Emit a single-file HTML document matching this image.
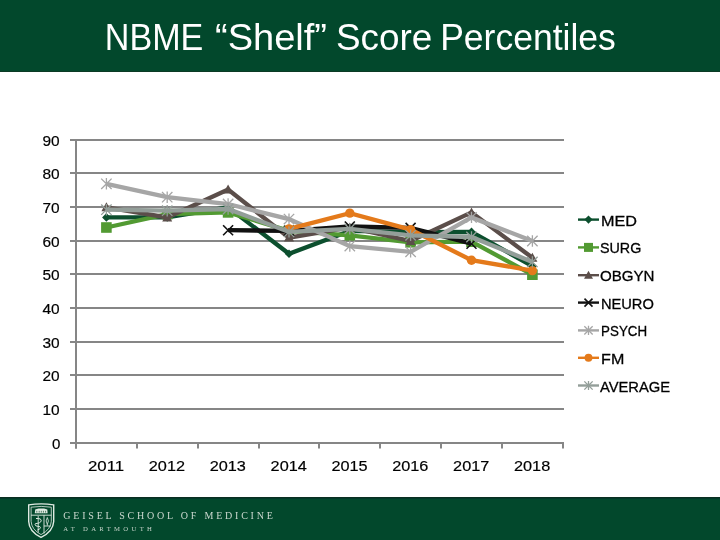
<!DOCTYPE html>
<html><head><meta charset="utf-8">
<style>
html,body{margin:0;padding:0;}
body{width:720px;height:540px;position:relative;overflow:hidden;background:#fff;font-family:"Liberation Sans",sans-serif;}
#top{position:absolute;left:0;top:0;width:720px;height:71px;background:#02482c;border-bottom:1px solid #0b3a25;}
#foot{position:absolute;left:0;top:497px;width:720px;height:42px;background:#02482c;border-top:1px solid #0a2f20;box-shadow:inset 0 1px 0 #03392a;}
svg{position:absolute;left:0;top:0;will-change:transform;}
.lab{font-size:15.5px;fill:#000;stroke:#000;stroke-width:0.2px;}
.leg{font-size:15.5px;fill:#000;stroke:#000;stroke-width:0.3px;}
</style></head><body>
<div id="top"></div>
<svg width="720" height="80" viewBox="0 0 720 80" style="position:absolute;left:0;top:0">
<g style="font-size:36px;fill:#fff">
<text x="104.8" y="49.5" textLength="98.5" lengthAdjust="spacingAndGlyphs">NBME</text>
<text x="215" y="49.5" textLength="112" lengthAdjust="spacingAndGlyphs">“Shelf”</text>
<text x="336" y="49.5" textLength="96.3" lengthAdjust="spacingAndGlyphs">Score</text>
<text x="440.2" y="49.5" textLength="175.6" lengthAdjust="spacingAndGlyphs">Percentiles</text>
</g></svg>
<svg width="720" height="540" viewBox="0 0 720 540">
<line x1="70" y1="443" x2="564" y2="443" stroke="#868686" stroke-width="2"/>
<line x1="70" y1="409" x2="564" y2="409" stroke="#868686" stroke-width="2"/>
<line x1="70" y1="375" x2="564" y2="375" stroke="#868686" stroke-width="2"/>
<line x1="70" y1="342" x2="564" y2="342" stroke="#868686" stroke-width="2"/>
<line x1="70" y1="308" x2="564" y2="308" stroke="#868686" stroke-width="2"/>
<line x1="70" y1="274" x2="564" y2="274" stroke="#868686" stroke-width="2"/>
<line x1="70" y1="241" x2="564" y2="241" stroke="#868686" stroke-width="2"/>
<line x1="70" y1="207" x2="564" y2="207" stroke="#868686" stroke-width="2"/>
<line x1="70" y1="173" x2="564" y2="173" stroke="#868686" stroke-width="2"/>
<line x1="70" y1="140" x2="564" y2="140" stroke="#868686" stroke-width="2"/>
<line x1="76" y1="139" x2="76" y2="448.5" stroke="#868686" stroke-width="2"/>
<line x1="76" y1="443" x2="76" y2="448.5" stroke="#868686" stroke-width="2"/>
<line x1="137" y1="443" x2="137" y2="448.5" stroke="#868686" stroke-width="2"/>
<line x1="198" y1="443" x2="198" y2="448.5" stroke="#868686" stroke-width="2"/>
<line x1="259" y1="443" x2="259" y2="448.5" stroke="#868686" stroke-width="2"/>
<line x1="319" y1="443" x2="319" y2="448.5" stroke="#868686" stroke-width="2"/>
<line x1="380" y1="443" x2="380" y2="448.5" stroke="#868686" stroke-width="2"/>
<line x1="441" y1="443" x2="441" y2="448.5" stroke="#868686" stroke-width="2"/>
<line x1="502" y1="443" x2="502" y2="448.5" stroke="#868686" stroke-width="2"/>
<line x1="563" y1="443" x2="563" y2="448.5" stroke="#868686" stroke-width="2"/>
<text x="52.0" y="448.70" textLength="8.4" lengthAdjust="spacingAndGlyphs" class="lab">0</text>
<text x="42.4" y="415.03" textLength="17.2" lengthAdjust="spacingAndGlyphs" class="lab">10</text>
<text x="42.4" y="381.37" textLength="17.2" lengthAdjust="spacingAndGlyphs" class="lab">20</text>
<text x="42.4" y="347.70" textLength="17.2" lengthAdjust="spacingAndGlyphs" class="lab">30</text>
<text x="42.4" y="314.03" textLength="17.2" lengthAdjust="spacingAndGlyphs" class="lab">40</text>
<text x="42.4" y="280.37" textLength="17.2" lengthAdjust="spacingAndGlyphs" class="lab">50</text>
<text x="42.4" y="246.70" textLength="17.2" lengthAdjust="spacingAndGlyphs" class="lab">60</text>
<text x="42.4" y="213.03" textLength="17.2" lengthAdjust="spacingAndGlyphs" class="lab">70</text>
<text x="42.4" y="179.37" textLength="17.2" lengthAdjust="spacingAndGlyphs" class="lab">80</text>
<text x="42.4" y="145.70" textLength="17.2" lengthAdjust="spacingAndGlyphs" class="lab">90</text>
<text x="88.0" y="470.6" textLength="36.2" lengthAdjust="spacingAndGlyphs" class="lab">2011</text>
<text x="148.8" y="470.6" textLength="36.2" lengthAdjust="spacingAndGlyphs" class="lab">2012</text>
<text x="209.7" y="470.6" textLength="36.2" lengthAdjust="spacingAndGlyphs" class="lab">2013</text>
<text x="270.6" y="470.6" textLength="36.2" lengthAdjust="spacingAndGlyphs" class="lab">2014</text>
<text x="331.4" y="470.6" textLength="36.2" lengthAdjust="spacingAndGlyphs" class="lab">2015</text>
<text x="392.2" y="470.6" textLength="36.2" lengthAdjust="spacingAndGlyphs" class="lab">2016</text>
<text x="453.1" y="470.6" textLength="36.2" lengthAdjust="spacingAndGlyphs" class="lab">2017</text>
<text x="514.0" y="470.6" textLength="36.2" lengthAdjust="spacingAndGlyphs" class="lab">2018</text>
<polyline points="106.4,217.4 167.2,217.4 228.1,207.3 289.0,253.8 349.8,230.9 410.6,232.2 471.5,231.9 532.4,266.2" fill="none" stroke="#0c4f2e" stroke-width="4.3" stroke-linejoin="miter"/>
<path d="M106.4,213.1 L110.7,217.4 L106.4,221.70000000000002 L102.10000000000001,217.4 Z" fill="#0c4f2e"/>
<path d="M167.2,213.1 L171.5,217.4 L167.2,221.70000000000002 L162.89999999999998,217.4 Z" fill="#0c4f2e"/>
<path d="M228.1,203.0 L232.4,207.3 L228.1,211.60000000000002 L223.79999999999998,207.3 Z" fill="#0c4f2e"/>
<path d="M289.0,249.5 L293.3,253.8 L289.0,258.1 L284.7,253.8 Z" fill="#0c4f2e"/>
<path d="M349.8,226.6 L354.1,230.9 L349.8,235.20000000000002 L345.5,230.9 Z" fill="#0c4f2e"/>
<path d="M410.6,227.89999999999998 L414.90000000000003,232.2 L410.6,236.5 L406.3,232.2 Z" fill="#0c4f2e"/>
<path d="M471.5,227.6 L475.8,231.9 L471.5,236.20000000000002 L467.2,231.9 Z" fill="#0c4f2e"/>
<path d="M532.4,261.9 L536.6999999999999,266.2 L532.4,270.5 L528.1,266.2 Z" fill="#0c4f2e"/>
<polyline points="106.4,227.5 167.2,214.1 228.1,212.4 289.0,230.9 349.8,235.3 410.6,242.3 471.5,241.7 532.4,274.7" fill="none" stroke="#529a32" stroke-width="4.3" stroke-linejoin="miter"/>
<rect x="101.10000000000001" y="222.2" width="10.6" height="10.6" fill="#529a32"/>
<rect x="161.89999999999998" y="208.79999999999998" width="10.6" height="10.6" fill="#529a32"/>
<rect x="222.79999999999998" y="207.1" width="10.6" height="10.6" fill="#529a32"/>
<rect x="283.7" y="225.6" width="10.6" height="10.6" fill="#529a32"/>
<rect x="344.5" y="230.0" width="10.6" height="10.6" fill="#529a32"/>
<rect x="405.3" y="237.0" width="10.6" height="10.6" fill="#529a32"/>
<rect x="466.2" y="236.39999999999998" width="10.6" height="10.6" fill="#529a32"/>
<rect x="527.1" y="269.4" width="10.6" height="10.6" fill="#529a32"/>
<polyline points="106.4,207.3 167.2,217.4 228.1,189.5 289.0,237.6 349.8,227.5 410.6,241.0 471.5,212.4 532.4,257.8" fill="none" stroke="#5b4e4a" stroke-width="4.3" stroke-linejoin="miter"/>
<path d="M106.4,202.3 L111.4,211.3 L101.4,211.3 Z" fill="#5b4e4a"/>
<path d="M167.2,212.4 L172.2,221.4 L162.2,221.4 Z" fill="#5b4e4a"/>
<path d="M228.1,184.5 L233.1,193.5 L223.1,193.5 Z" fill="#5b4e4a"/>
<path d="M289.0,232.6 L294.0,241.6 L284.0,241.6 Z" fill="#5b4e4a"/>
<path d="M349.8,222.5 L354.8,231.5 L344.8,231.5 Z" fill="#5b4e4a"/>
<path d="M410.6,236.0 L415.6,245.0 L405.6,245.0 Z" fill="#5b4e4a"/>
<path d="M471.5,207.4 L476.5,216.4 L466.5,216.4 Z" fill="#5b4e4a"/>
<path d="M532.4,252.8 L537.4,261.8 L527.4,261.8 Z" fill="#5b4e4a"/>
<polyline points="228.1,230.2 289.0,230.9 349.8,226.5 410.6,227.9 471.5,243.7" fill="none" stroke="#111111" stroke-width="4.3" stroke-linejoin="miter"/>
<path d="M223.1,225.2 L233.1,235.2 M233.1,225.2 L223.1,235.2" stroke="#111111" stroke-width="1.6" fill="none"/>
<path d="M284.0,225.9 L294.0,235.9 M294.0,225.9 L284.0,235.9" stroke="#111111" stroke-width="1.6" fill="none"/>
<path d="M344.8,221.5 L354.8,231.5 M354.8,221.5 L344.8,231.5" stroke="#111111" stroke-width="1.6" fill="none"/>
<path d="M405.6,222.9 L415.6,232.9 M415.6,222.9 L405.6,232.9" stroke="#111111" stroke-width="1.6" fill="none"/>
<path d="M466.5,238.7 L476.5,248.7 M476.5,238.7 L466.5,248.7" stroke="#111111" stroke-width="1.6" fill="none"/>
<polyline points="106.4,183.8 167.2,197.2 228.1,204.0 289.0,219.1 349.8,246.1 410.6,251.8 471.5,217.4 532.4,241.0" fill="none" stroke="#a6a6a6" stroke-width="4.3" stroke-linejoin="miter"/>
<path d="M101.2,178.60000000000002 L111.60000000000001,189.0 M111.60000000000001,178.60000000000002 L101.2,189.0 M106.4,178.08 L106.4,189.52" stroke="#a6a6a6" stroke-width="1.3" fill="none"/>
<path d="M162.0,192.0 L172.39999999999998,202.39999999999998 M172.39999999999998,192.0 L162.0,202.39999999999998 M167.2,191.48 L167.2,202.92" stroke="#a6a6a6" stroke-width="1.3" fill="none"/>
<path d="M222.9,198.8 L233.29999999999998,209.2 M233.29999999999998,198.8 L222.9,209.2 M228.1,198.28 L228.1,209.72" stroke="#a6a6a6" stroke-width="1.3" fill="none"/>
<path d="M283.8,213.9 L294.2,224.29999999999998 M294.2,213.9 L283.8,224.29999999999998 M289.0,213.38 L289.0,224.82" stroke="#a6a6a6" stroke-width="1.3" fill="none"/>
<path d="M344.6,240.9 L355.0,251.29999999999998 M355.0,240.9 L344.6,251.29999999999998 M349.8,240.38 L349.8,251.82" stroke="#a6a6a6" stroke-width="1.3" fill="none"/>
<path d="M405.40000000000003,246.60000000000002 L415.8,257.0 M415.8,246.60000000000002 L405.40000000000003,257.0 M410.6,246.08 L410.6,257.52000000000004" stroke="#a6a6a6" stroke-width="1.3" fill="none"/>
<path d="M466.3,212.20000000000002 L476.7,222.6 M476.7,212.20000000000002 L466.3,222.6 M471.5,211.68 L471.5,223.12" stroke="#a6a6a6" stroke-width="1.3" fill="none"/>
<path d="M527.1999999999999,235.8 L537.6,246.2 M537.6,235.8 L527.1999999999999,246.2 M532.4,235.28 L532.4,246.72" stroke="#a6a6a6" stroke-width="1.3" fill="none"/>
<polyline points="289.0,228.9 349.8,213.1 410.6,229.6 471.5,260.2 532.4,270.6" fill="none" stroke="#e47a1b" stroke-width="4.3" stroke-linejoin="miter"/>
<circle cx="289.0" cy="228.9" r="4.7" fill="#e47a1b"/>
<circle cx="349.8" cy="213.1" r="4.7" fill="#e47a1b"/>
<circle cx="410.6" cy="229.6" r="4.7" fill="#e47a1b"/>
<circle cx="471.5" cy="260.2" r="4.7" fill="#e47a1b"/>
<circle cx="532.4" cy="270.6" r="4.7" fill="#e47a1b"/>
<polyline points="106.4,209.7 167.2,210.7 228.1,209.0 289.0,231.9 349.8,228.9 410.6,235.3 471.5,237.0 532.4,261.9" fill="none" stroke="#939e99" stroke-width="4.3" stroke-linejoin="miter"/>
<path d="M101.2,204.5 L111.60000000000001,214.89999999999998 M111.60000000000001,204.5 L101.2,214.89999999999998 M106.4,203.98 L106.4,215.42" stroke="#939e99" stroke-width="1.3" fill="none"/>
<path d="M162.0,205.5 L172.39999999999998,215.89999999999998 M172.39999999999998,205.5 L162.0,215.89999999999998 M167.2,204.98 L167.2,216.42" stroke="#939e99" stroke-width="1.3" fill="none"/>
<path d="M222.9,203.8 L233.29999999999998,214.2 M233.29999999999998,203.8 L222.9,214.2 M228.1,203.28 L228.1,214.72" stroke="#939e99" stroke-width="1.3" fill="none"/>
<path d="M283.8,226.70000000000002 L294.2,237.1 M294.2,226.70000000000002 L283.8,237.1 M289.0,226.18 L289.0,237.62" stroke="#939e99" stroke-width="1.3" fill="none"/>
<path d="M344.6,223.70000000000002 L355.0,234.1 M355.0,223.70000000000002 L344.6,234.1 M349.8,223.18 L349.8,234.62" stroke="#939e99" stroke-width="1.3" fill="none"/>
<path d="M405.40000000000003,230.10000000000002 L415.8,240.5 M415.8,230.10000000000002 L405.40000000000003,240.5 M410.6,229.58 L410.6,241.02" stroke="#939e99" stroke-width="1.3" fill="none"/>
<path d="M466.3,231.8 L476.7,242.2 M476.7,231.8 L466.3,242.2 M471.5,231.28 L471.5,242.72" stroke="#939e99" stroke-width="1.3" fill="none"/>
<path d="M527.1999999999999,256.7 L537.6,267.09999999999997 M537.6,256.7 L527.1999999999999,267.09999999999997 M532.4,256.17999999999995 L532.4,267.62" stroke="#939e99" stroke-width="1.3" fill="none"/>
<line x1="578" y1="219.6" x2="599" y2="219.6" stroke="#0c4f2e" stroke-width="2.4"/>
<path d="M588.5,215.515 L592.585,219.6 L588.5,223.685 L584.415,219.6 Z" fill="#0c4f2e"/>
<text x="601.0" y="225.6" textLength="36.0" lengthAdjust="spacingAndGlyphs" class="leg">MED</text>
<line x1="578" y1="247.4" x2="599" y2="247.4" stroke="#529a32" stroke-width="2.4"/>
<rect x="583.995" y="242.895" width="9.01" height="9.01" fill="#529a32"/>
<text x="599.9" y="253.4" textLength="41.4" lengthAdjust="spacingAndGlyphs" class="leg">SURG</text>
<line x1="578" y1="275.2" x2="599" y2="275.2" stroke="#5b4e4a" stroke-width="2.4"/>
<path d="M588.5,270.7 L593.0,278.8 L584.0,278.8 Z" fill="#5b4e4a"/>
<text x="599.9" y="281.2" textLength="54.5" lengthAdjust="spacingAndGlyphs" class="leg">OBGYN</text>
<line x1="578" y1="302.6" x2="599" y2="302.6" stroke="#111111" stroke-width="2.4"/>
<path d="M584.5,298.6 L592.5,306.6 M592.5,298.6 L584.5,306.6" stroke="#111111" stroke-width="1.6" fill="none"/>
<text x="600.9" y="308.6" textLength="53.0" lengthAdjust="spacingAndGlyphs" class="leg">NEURO</text>
<line x1="578" y1="330.4" x2="599" y2="330.4" stroke="#a6a6a6" stroke-width="2.4"/>
<path d="M584.34,326.23999999999995 L592.66,334.56 M592.66,326.23999999999995 L584.34,334.56 M588.5,325.82399999999996 L588.5,334.976" stroke="#a6a6a6" stroke-width="1.3" fill="none"/>
<text x="601.1" y="336.4" textLength="46.0" lengthAdjust="spacingAndGlyphs" class="leg">PSYCH</text>
<line x1="578" y1="357.8" x2="599" y2="357.8" stroke="#e47a1b" stroke-width="2.4"/>
<circle cx="588.5" cy="357.8" r="3.948" fill="#e47a1b"/>
<text x="601.1" y="363.8" textLength="23.2" lengthAdjust="spacingAndGlyphs" class="leg">FM</text>
<line x1="578" y1="385.5" x2="599" y2="385.5" stroke="#939e99" stroke-width="2.4"/>
<path d="M584.34,381.34 L592.66,389.66 M592.66,381.34 L584.34,389.66 M588.5,380.924 L588.5,390.076" stroke="#939e99" stroke-width="1.3" fill="none"/>
<text x="599.9" y="391.5" textLength="70.2" lengthAdjust="spacingAndGlyphs" class="leg">AVERAGE</text>
</svg>
<div id="foot"></div>
<svg width="720" height="540" viewBox="0 0 720 540" style="pointer-events:none">
<g fill="none" stroke="#dfeae2">
<path d="M28.7,504.9 Q41.2,502.8 53.7,504.9 L53.7,521.5 Q53.2,531.5 41,537.4 Q29,531.5 28.7,521.5 Z" stroke-width="1.4"/>
<path d="M31.1,507.2 Q41.2,505.6 51.3,507.2 L51.3,521.3 Q50.9,529.4 41,534.6 Q31.5,529.4 31.1,521.3 Z" stroke-width="0.8"/>
<path d="M31,515.2 L51.4,515.2 M44,515.2 L44,533.5 M44,526 L50.8,526" stroke-width="0.9"/>
<path d="M38.2,516 L38.2,532.5" stroke-width="0.9"/>
<path d="M36,518.5 Q41.5,518.2 41.2,520.8 Q40.8,523.2 35.5,523.6 Q33.6,526.2 39.8,526.6 Q41.8,528.4 37.4,530" stroke-width="1.0"/>
<path d="M47.3,517.5 Q49.6,521 47.3,524.3 Q45,521 47.3,517.5 Z M47.3,524 L47.3,525.6" stroke-width="0.8"/>
</g>
<path d="M34.8,513.2 L35.2,509.6 L38.5,508.4 L44,508.4 L47.3,509.6 L47.6,513.2 Z" fill="#dfeae2"/>
<path d="M36.8,512.6 L36.8,510.8 M39.2,512.6 L39.2,510.8 M41.3,512.6 L41.3,510.8 M43.4,512.6 L43.4,510.8 M45.6,512.6 L45.6,510.8" stroke="#3e6e55" stroke-width="0.9"/>
<text x="63.3" y="518.8" textLength="209.5" lengthAdjust="spacing" style="font-family:'Liberation Serif',serif;font-size:10px;fill:#cbd8cf">GEISEL SCHOOL OF MEDICINE</text>
<text x="63.3" y="531.2" textLength="88.6" lengthAdjust="spacing" style="font-family:'Liberation Serif',serif;font-size:6.7px;fill:#c5d3c9">AT DARTMOUTH</text>
</svg>
</body></html>
